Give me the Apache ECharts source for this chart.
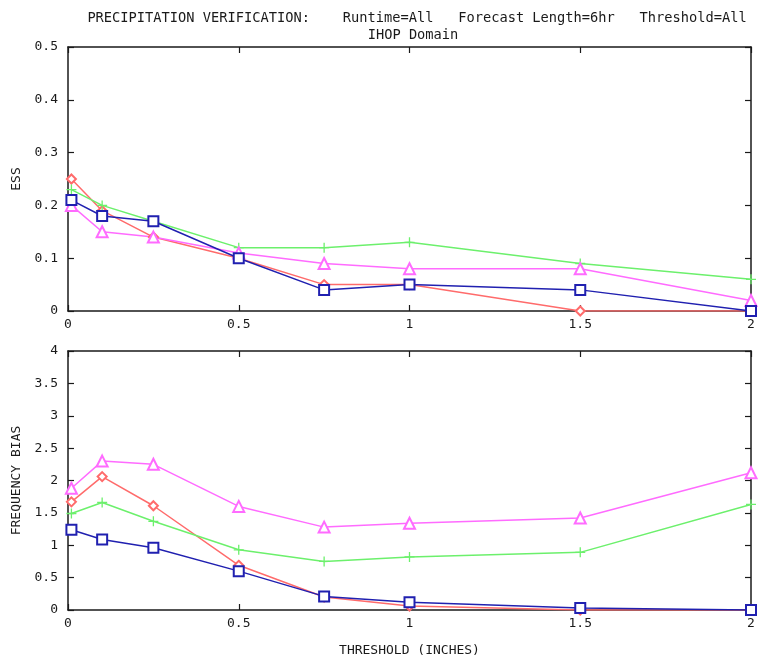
<!DOCTYPE html>
<html>
<head>
<meta charset="utf-8">
<script src="https://cdn.jsdelivr.net/npm/echarts@6/dist/echarts.min.js"></script>
<style>html,body{margin:0;padding:0;background:#fff;}#c{width:759px;height:658px;}</style>
</head>
<body>
<div id="c"></div>
<script>
// Data
var thresholds = [0.01, 0.1, 0.25, 0.5, 0.75, 1, 1.5, 2];
var essRed     = [0.25, 0.19, 0.14, 0.10, 0.05, 0.05, 0.00, 0.00];
var essGreen   = [0.23, 0.20, 0.17, 0.12, 0.12, 0.13, 0.09, 0.06];
var essBlue    = [0.21, 0.18, 0.17, 0.10, 0.04, 0.05, 0.04, 0.00];
var essMagenta = [0.20, 0.15, 0.14, 0.11, 0.09, 0.08, 0.08, 0.02];
var fbRed      = [1.67, 2.06, 1.61, 0.69, 0.20, 0.06, 0.00, 0.00];
var fbGreen    = [1.49, 1.66, 1.37, 0.93, 0.75, 0.82, 0.89, 1.63];
var fbBlue     = [1.24, 1.09, 0.96, 0.60, 0.21, 0.12, 0.03, 0.00];
var fbMagenta  = [1.88, 2.30, 2.25, 1.60, 1.28, 1.34, 1.42, 2.12];
var titleText = 'PRECIPITATION VERIFICATION:    Runtime=All   Forecast Length=6hr   Threshold=All';
var subtitleText = 'IHOP Domain';

var FONT = 'DejaVu Sans Mono';
var TXT = '#1a1a1a';
var AX = '#1a1a1a';
var colors = {red: '#ff6b6b', green: '#6cf06c', blue: '#2020b0', magenta: '#ff6bff'};
var plusPath = 'path://M5,0L5,10M0,5L10,5';

function pairs(ys) { return thresholds.map(function (x, i) { return [x, ys[i]]; }); }

function xAx(grid, pos, showLabel, name) {
  return {
    type: 'value', gridIndex: grid, position: pos, min: 0, max: 2, interval: 0.5,
    axisLine: {show: true, onZero: false, lineStyle: {color: AX, width: 1.5}},
    axisTick: {show: true, inside: true, length: 6, lineStyle: {color: AX, width: 1.2}},
    axisLabel: {show: showLabel, color: TXT, fontFamily: FONT, fontSize: 13, margin: 7},
    splitLine: {show: false},
    name: name || '', nameLocation: 'middle', nameGap: 34,
    nameTextStyle: {color: TXT, fontFamily: FONT, fontSize: 13}
  };
}
function yAx(grid, pos, showLabel, max, interval, name) {
  return {
    type: 'value', gridIndex: grid, position: pos, min: 0, max: max, interval: interval,
    axisLine: {show: true, onZero: false, lineStyle: {color: AX, width: 1.5}},
    axisTick: {show: true, inside: true, length: 6, lineStyle: {color: AX, width: 1.2}},
    axisLabel: {show: showLabel, color: TXT, fontFamily: FONT, fontSize: 13, margin: 10},
    splitLine: {show: false},
    name: name || '', nameLocation: 'middle', nameGap: 42, nameRotate: 90,
    nameTextStyle: {color: TXT, fontFamily: FONT, fontSize: 13}
  };
}
function ser(ys, color, kind, xi, yi) {
  var s = {
    type: 'line', data: pairs(ys), xAxisIndex: xi, yAxisIndex: yi,
    lineStyle: {color: color, width: 1.5}, silent: true, animation: false,
    showAllSymbol: true
  };
  if (kind === 'plus') {
    s.symbol = plusPath; s.symbolSize = 10;
    s.itemStyle = {color: color, borderColor: color, borderWidth: 1.3};
  } else if (kind === 'diamond') {
    s.symbol = 'emptyDiamond'; s.symbolSize = 9;
    s.itemStyle = {color: color, borderColor: color, borderWidth: 1.2};
  } else if (kind === 'square') {
    s.symbol = 'emptyRect'; s.symbolSize = 10;
    s.itemStyle = {color: color, borderColor: color, borderWidth: 1.5};
  } else {
    s.symbol = 'emptyTriangle'; s.symbolSize = 11;
    s.itemStyle = {color: color, borderColor: color, borderWidth: 1.3};
  }
  return s;
}

var chart = echarts.init(document.getElementById('c'), null, {renderer: 'canvas'});
chart.setOption({
  backgroundColor: '#fff',
  animation: false,
  title: [
    {text: titleText, left: 412, top: 6, textAlign: 'center',
     textStyle: {color: TXT, fontFamily: FONT, fontSize: 13.7, fontWeight: 'normal'}},
    {text: subtitleText, left: 408, top: 23, textAlign: 'center',
     textStyle: {color: TXT, fontFamily: FONT, fontSize: 13.7, fontWeight: 'normal'}}
  ],
  grid: [
    {left: 68, right: 8, top: 47, height: 264},
    {left: 68, right: 8, top: 351, height: 268}
  ],
  xAxis: [
    xAx(0, 'bottom', true), xAx(0, 'top', false),
    xAx(1, 'bottom', true, 'THRESHOLD (INCHES)'), xAx(1, 'top', false)
  ],
  yAxis: [
    yAx(0, 'left', true, 0.5, 0.1, 'ESS'), yAx(0, 'right', false, 0.5, 0.1),
    yAx(1, 'left', true, 4, 0.5, 'FREQUENCY BIAS'), yAx(1, 'right', false, 4, 0.5)
  ],
  series: [
    ser(essRed, colors.red, 'diamond', 0, 0),
    ser(essGreen, colors.green, 'plus', 0, 0),
    ser(essMagenta, colors.magenta, 'triangle', 0, 0),
    ser(essBlue, colors.blue, 'square', 0, 0),
    ser(fbRed, colors.red, 'diamond', 2, 2),
    ser(fbGreen, colors.green, 'plus', 2, 2),
    ser(fbMagenta, colors.magenta, 'triangle', 2, 2),
    ser(fbBlue, colors.blue, 'square', 2, 2)
  ]
});
</script>
</body>
</html>
